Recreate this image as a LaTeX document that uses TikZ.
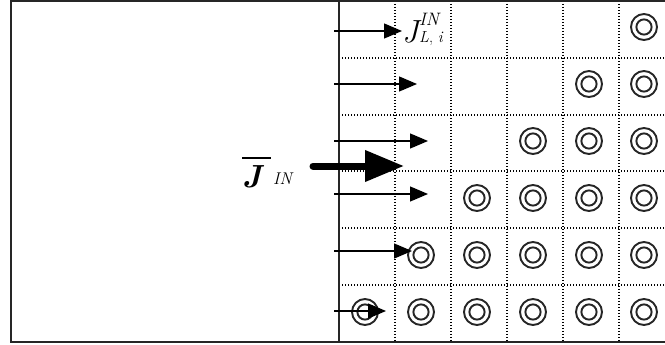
\documentclass[tikz,border=0pt]{standalone}
\usepackage{fontspec}
\usetikzlibrary{arrows.meta}
\begin{document}
\begin{tikzpicture}[x=1pt,y=-1pt,
  frameline/.style={line width=2pt, black!85},
  gridline/.style={line width=1.5pt, dash pattern=on 1.4pt off 1.6pt},
  ring/.style={circle, draw=black!85, line width=1.9pt, minimum size=26pt, inner sep=0pt,
    path picture={\draw[black!85, line width=1.9pt] (path picture bounding box.center) circle (7.6pt);}},
  thinarrow/.style={line width=1.3pt, -{Triangle[length=18pt,width=15pt]}},
  thickarrow/.style={line width=7pt, line cap=round, -{Triangle[length=39pt,width=30pt]}},
  lbl/.style={inner sep=0pt, anchor=base west}]
\useasboundingbox (0,0) rectangle (665,345);
\fill[white] (0,0) rectangle (665,345);
% dotted grid
\foreach \x in {395,451,507,563,619} \draw[gridline] (\x,1) -- (\x,342);
\foreach \y in {58,115,171,228,285} \draw[gridline] (339,\y) -- (666,\y);
% frame
\draw[frameline] (667,1) -- (11,1) -- (11,342) -- (667,342);
\draw[frameline] (339,1) -- (339,342);
% rings (staircase)
\foreach \r/\y in {1/27,2/84,3/141,4/198,5/255,6/312}{
  \foreach \c/\x in {1/365,2/421,3/477,4/533,5/589,6/644}{
    \pgfmathtruncatemacro{\show}{\c+\r>6 ? 1 : 0}
    \ifnum\show=1 \node[ring] (c\r\c) at (\x,\y) {};\fi
  }
}
% thin arrows
\coordinate (s1) at (334,31);  \coordinate (e1) at (402,31);
\coordinate (s2) at (334,84);  \coordinate (e2) at (417,84);
\coordinate (s3) at (334,141); \coordinate (e3) at (428,141);
\coordinate (s4) at (334,194); \coordinate (e4) at (428,194);
\coordinate (s5) at (334,251); \coordinate (e5) at (412,251);
\coordinate (s6) at (334,311); \coordinate (e6) at (386,311);
\foreach \i in {1,...,6} \draw[thinarrow] (s\i) -- (e\i);
% thick arrow
\coordinate (ts) at (313,166); \coordinate (te) at (404,166);
\draw[thickarrow] (ts) -- (te);
% labels
\node[lbl] (jbar) at (242,187) {\fontsize{32}{32}\selectfont\rlap{\rule[28pt]{29pt}{1.8pt}}\textbf{\textit{J}}};
\node[lbl] (jin) at (273,185) {\fontsize{17}{17}\selectfont\textit{IN}};
\node[lbl] (jtop) at (402,43) {\fontsize{32}{32}\selectfont\textit{J}};
\node[lbl] (jtopsup) at (419,26) {\fontsize{18}{18}\selectfont\textit{IN}};
\node[lbl] (jtopsub) at (419,43) {\fontsize{16}{16}\selectfont\textit{L}, \textit{i}};
\end{tikzpicture}
\end{document}
